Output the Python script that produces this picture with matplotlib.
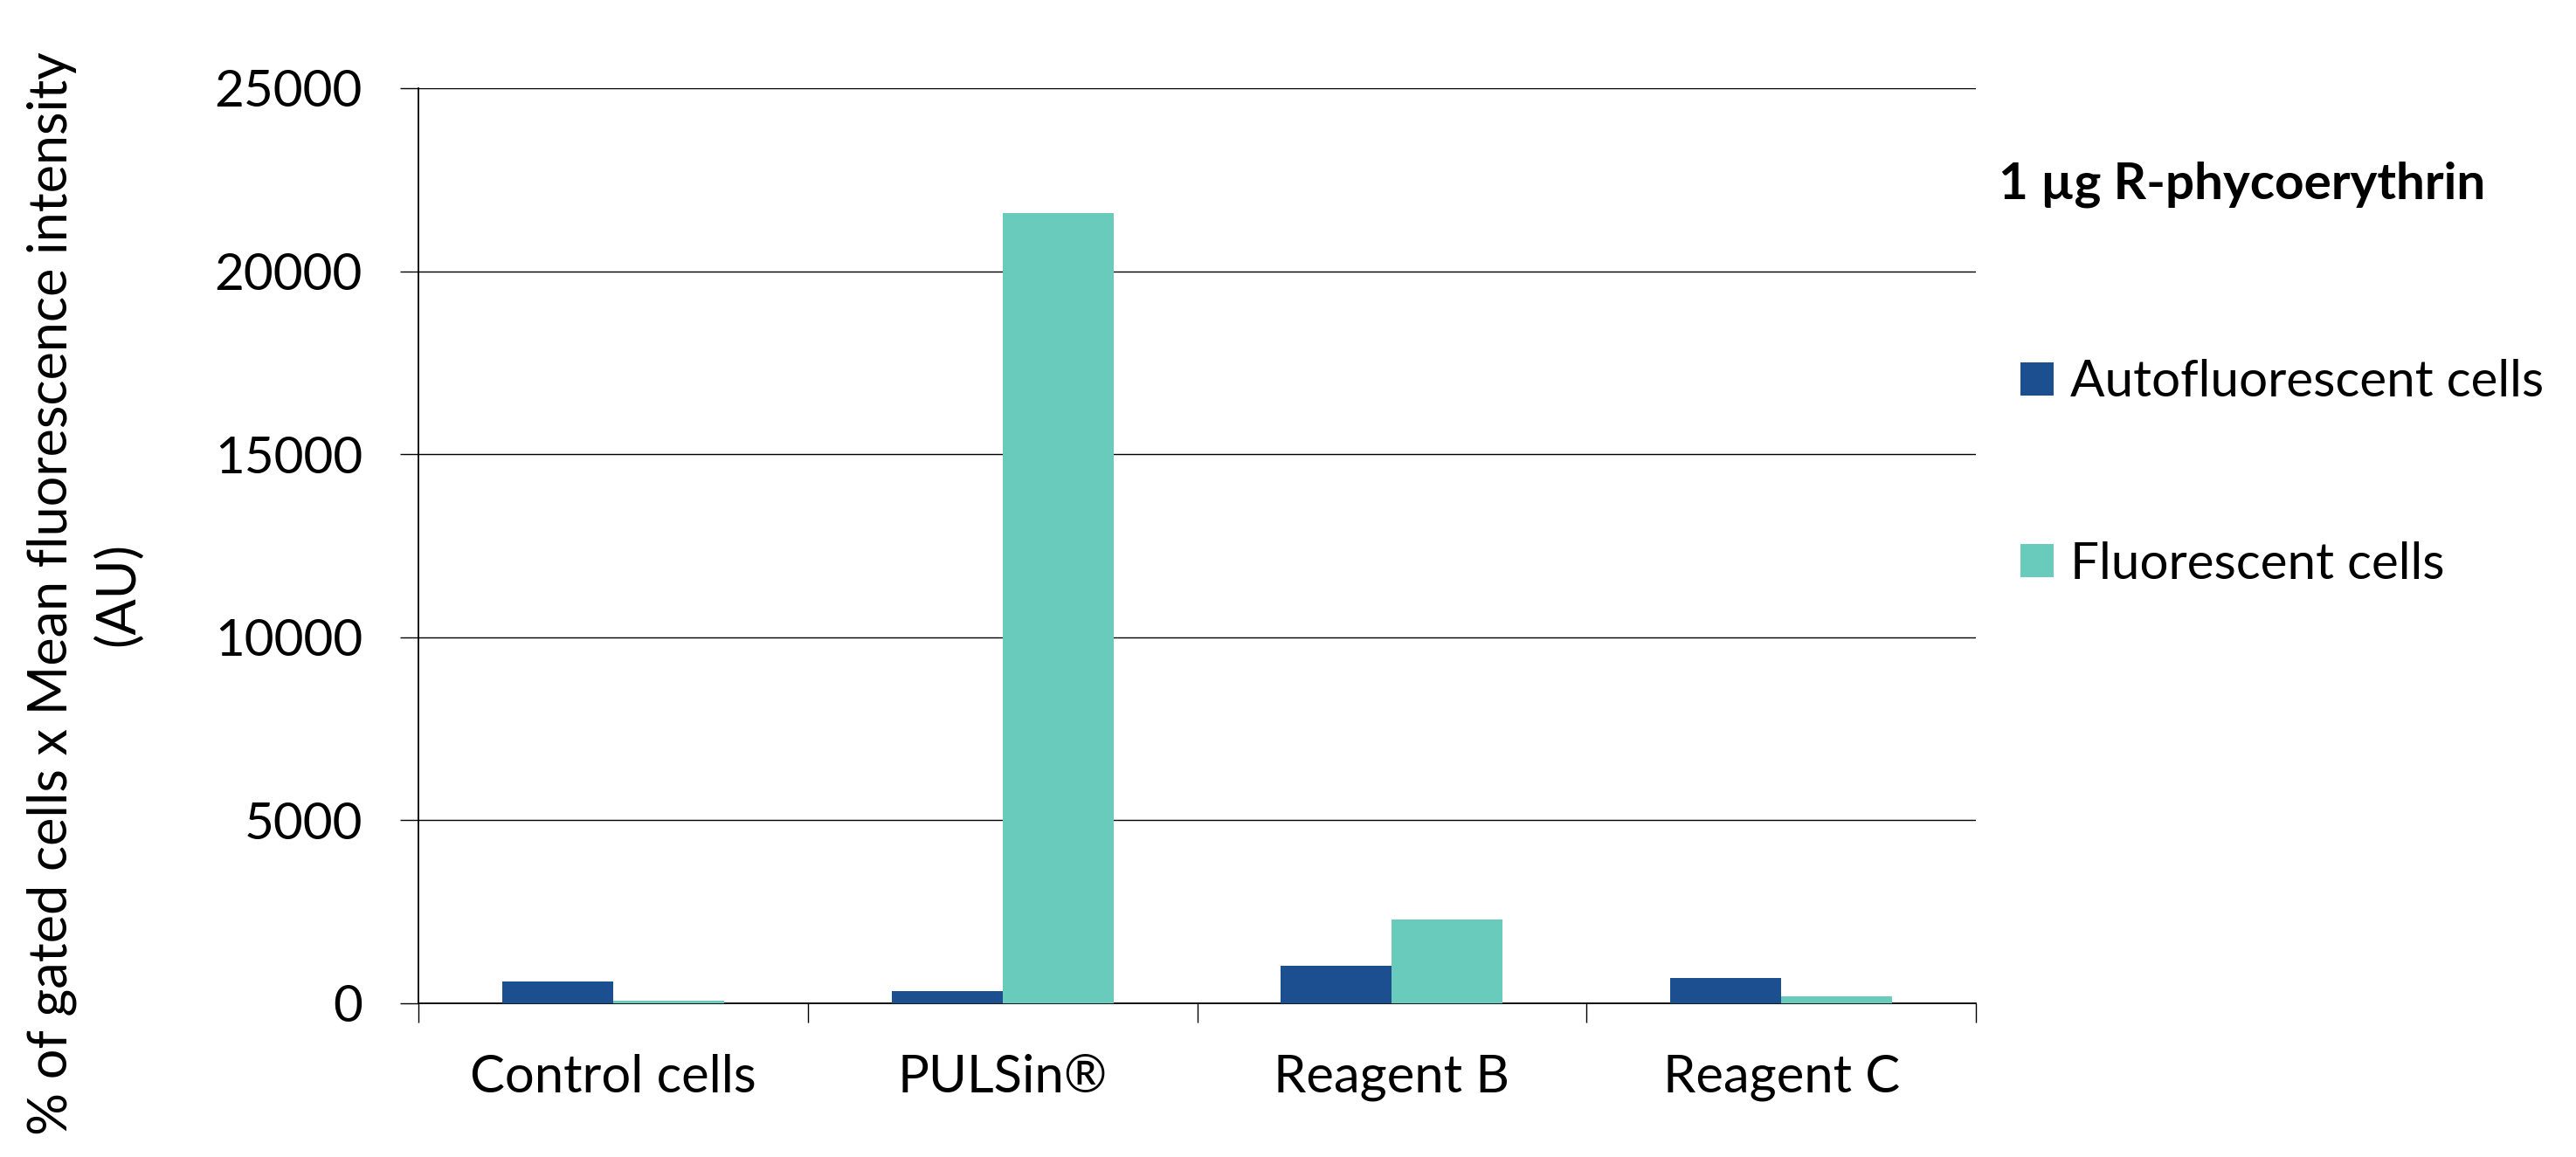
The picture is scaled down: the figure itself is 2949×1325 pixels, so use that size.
import matplotlib
matplotlib.use("Agg")
import matplotlib.pyplot as plt
from matplotlib.patches import Patch
from matplotlib.ticker import FixedLocator, NullFormatter
import numpy as np

categories = ["Control cells", "PULSin®", "Reagent B", "Reagent C"]
series_names = ["Autofluorescent cells", "Fluorescent cells"]
autofluorescent = [600, 330, 1020, 690]
fluorescent = [75, 21600, 2300, 190]
y_ticks = [0, 5000, 10000, 15000, 20000, 25000]
legend_title = "1 µg R-phycoerythrin"
y_label = "% of gated cells x Mean fluorescence intensity\n(AU)"

col_auto = "#1C4F8F"
col_fluo = "#68CBBB"

plt.rcParams['font.family'] = ['Lato', 'DejaVu Sans']

W, H = 2949, 1325
fig = plt.figure(figsize=(W / 100, H / 100), dpi=100)
ax = fig.add_axes([479 / W, 1 - 1149 / H, (2262 - 479) / W, (1149 - 101) / H])

x = np.arange(len(categories))
bw = 0.285
ax.bar(x - bw / 2, autofluorescent, bw, color=col_auto, zorder=3)
ax.bar(x + bw / 2, fluorescent, bw, color=col_fluo, zorder=3)

ax.set_xlim(-0.5, len(categories) - 0.5)
ax.set_ylim(0, 25000)
ax.set_yticks(y_ticks)
ax.set_yticklabels([str(t) for t in y_ticks])
ax.yaxis.grid(True, color="black", linewidth=1.0, zorder=0)

ax.set_xticks(x)
ax.set_xticklabels(categories)
ax.xaxis.set_minor_locator(FixedLocator(np.arange(len(categories) + 1) - 0.5))
ax.xaxis.set_minor_formatter(NullFormatter())
ax.tick_params(axis="x", which="major", length=0, pad=42, labelsize=43)
ax.tick_params(axis="x", which="minor", length=16, width=1.0, direction="out")
ax.tick_params(axis="y", length=15, width=1.0, direction="out", pad=31, labelsize=42)

for s in ["top", "right"]:
    ax.spines[s].set_visible(False)
for s in ["left", "bottom"]:
    ax.spines[s].set_linewidth(1.3)
    ax.spines[s].set_color("black")

fig.text(97 / W, 1 - 680 / H, y_label, rotation=90, ha="center", va="center",
         multialignment="center", fontsize=44, linespacing=1.4)

fig.text(2288 / W, 1 - 228 / H, legend_title, ha="left", va="baseline",
         fontsize=42, fontweight="bold")

handles = [Patch(facecolor=col_auto, edgecolor="none"),
           Patch(facecolor=col_fluo, edgecolor="none")]
leg = fig.legend(handles, series_names, loc="center left",
                 bbox_to_anchor=(2284 / W, 1 - 542 / H), frameon=False,
                 fontsize=42, borderpad=0, handlelength=0.64,
                 handleheight=0.64, handletextpad=0.33, labelspacing=2.66)

fig.savefig("out.png", dpi=100)
